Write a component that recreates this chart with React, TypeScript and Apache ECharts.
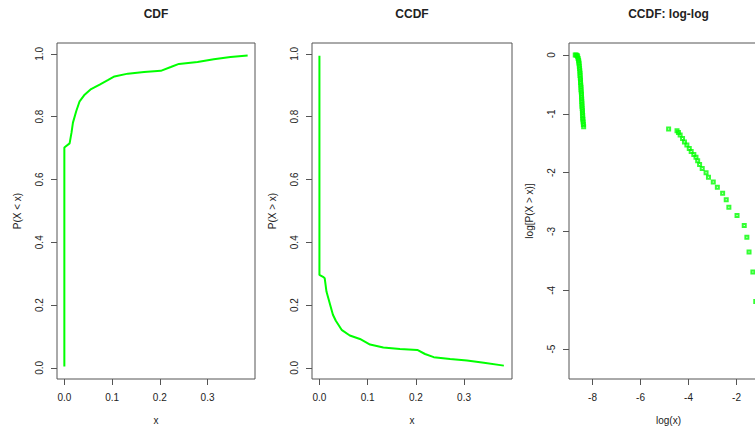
import React, { useEffect, useRef } from "react";
import * as echarts from "echarts";

// Empirical CDF, P(X < x)
const cdfX = [0, 0, 0.011, 0.015, 0.018, 0.025, 0.032, 0.0425, 0.056, 0.074, 0.091, 0.105, 0.133, 0.167, 0.202, 0.223, 0.24, 0.279, 0.313, 0.348, 0.384];
const cdfY = [0.004, 0.702, 0.715, 0.749, 0.781, 0.818, 0.849, 0.87, 0.888, 0.902, 0.916, 0.928, 0.937, 0.942, 0.946, 0.958, 0.968, 0.974, 0.983, 0.99, 0.995];

// Complementary CDF, P(X > x)
const ccdfX = [0, 0, 0.0075, 0.011, 0.0146, 0.0215, 0.028, 0.034, 0.046, 0.063, 0.084, 0.105, 0.1325, 0.167, 0.203, 0.219, 0.237, 0.271, 0.306, 0.341, 0.3825];
const ccdfY = [0.994, 0.296, 0.29, 0.285, 0.243, 0.205, 0.169, 0.15, 0.121, 0.103, 0.092, 0.074, 0.065, 0.06, 0.057, 0.044, 0.034, 0.028, 0.023, 0.016, 0.007];

// CCDF on log-log scale: log(x) vs log[P(X > x)]
const logX = [
  -8.72, -8.68, -8.64, -8.62, -8.6, -8.58, -8.57, -8.56, -8.55, -8.54, -8.53, -8.52, -8.52, -8.51, -8.5, -8.5, -8.49, -8.48,
  -8.48, -8.47, -8.46, -8.46, -8.45, -8.45, -8.44, -8.44, -8.43, -8.42, -8.42, -8.41, -8.41, -8.4, -8.39, -8.38, -8.37,
  -4.83, -4.48, -4.42, -4.35, -4.25, -4.17, -4.07, -3.97, -3.89, -3.78, -3.69, -3.62, -3.54, -3.43, -3.27, -3.17, -2.97,
  -2.8, -2.58, -2.43, -2.32, -1.98, -1.68, -1.57, -1.48, -1.32, -1.2, -1.08, -0.96,
];
const logY = [
  0, 0, -0.01, -0.03, -0.06, -0.09, -0.12, -0.15, -0.19, -0.23, -0.27, -0.31, -0.35, -0.39, -0.43, -0.47, -0.51, -0.55,
  -0.59, -0.63, -0.67, -0.71, -0.75, -0.79, -0.83, -0.87, -0.91, -0.95, -0.99, -1.03, -1.07, -1.1, -1.14, -1.18, -1.22,
  -1.26, -1.29, -1.32, -1.36, -1.42, -1.48, -1.53, -1.59, -1.64, -1.69, -1.74, -1.8, -1.86, -1.93, -2.0, -2.08, -2.16,
  -2.25, -2.35, -2.46, -2.59, -2.73, -2.9, -3.1, -3.35, -3.69, -4.19, -4.6, -5.29,
];

const linXTicks = [0, 0.1, 0.2, 0.3];
const linYTicks = [0, 0.2, 0.4, 0.6, 0.8, 1.0];
const logXTicks = [-8, -6, -4, -2];
const logYTicks = [0, -1, -2, -3, -4, -5];

const titles = ["CDF", "CCDF", "CCDF: log-log"];
const xNames = ["x", "x", "log(x)"];
const yNames = ["P(X < x)", "P(X > x)", "log[P(X > x)]"];

const pair = (xs: number[], ys: number[]) => xs.map((x, i) => [x, ys[i]]);

const FONT = "'Liberation Sans', Arial, sans-serif";
const GREEN = "#00ff00";
const INK = "#222";
const FRAME = "#555";

export default function App() {
  const ref = useRef<HTMLDivElement>(null);

  useEffect(() => {
    const chart = echarts.init(ref.current!, null, { renderer: "svg" });

    // The third panel runs past the right edge of the visible frame.
    const grids = [
      { left: 57, top: 43, width: 198, height: 338 },
      { left: 312, top: 43, width: 200, height: 338 },
      { left: 569, top: 43, width: 199, height: 338 },
    ];

    const ranges = [
      { x: [-0.0154, 0.3994], y: [-0.0356, 1.0346], xt: linXTicks, yt: linYTicks, fmt: (v: number) => v.toFixed(1) },
      { x: [-0.0154, 0.3994], y: [-0.0356, 1.0346], xt: linXTicks, yt: linYTicks, fmt: (v: number) => v.toFixed(1) },
      { x: [-8.98, -0.69], y: [-5.507, 0.203], xt: logXTicks, yt: logYTicks, fmt: (v: number) => String(Math.round(v)) },
    ];

    const axisCommon = {
      type: "value" as const,
      splitLine: { show: false },
      axisLine: { show: false, onZero: false },
      nameLocation: "middle" as const,
      nameTextStyle: { fontFamily: FONT, fontSize: 10, color: INK },
    };

    const option: any = {
      animation: false,
      backgroundColor: "#ffffff",
      title: titles.map((t, i) => ({
        text: t,
        left: grids[i].left + grids[i].width / 2,
        top: 8,
        padding: 0,
        textAlign: "center",
        textStyle: { fontFamily: FONT, fontSize: 12, fontWeight: "bold", color: INK },
      })),
      grid: grids.map((g) => ({
        ...g,
        show: true,
        borderColor: FRAME,
        borderWidth: 1,
        backgroundColor: "transparent",
        containLabel: false,
      })),
      xAxis: ranges.map((r, i) => ({
        ...axisCommon,
        gridIndex: i,
        min: r.x[0],
        max: r.x[1],
        name: xNames[i],
        nameGap: 36,
        axisTick: { show: true, length: 6, lineStyle: { color: FRAME }, customValues: r.xt },
        axisLabel: {
          customValues: r.xt,
          formatter: r.fmt,
          margin: 13,
          fontFamily: FONT,
          fontSize: 10,
          color: INK,
        },
      })),
      yAxis: ranges.map((r, i) => ({
        ...axisCommon,
        gridIndex: i,
        min: r.y[0],
        max: r.y[1],
        name: yNames[i],
        nameGap: 35,
        nameRotate: 90,
        axisTick: { show: true, length: 6, lineStyle: { color: FRAME }, customValues: r.yt },
        axisLabel: {
          customValues: r.yt,
          formatter: r.fmt,
          rotate: 90,
          margin: 13,
          fontFamily: FONT,
          fontSize: 10,
          color: INK,
        },
      })),
      series: [
        {
          type: "line",
          xAxisIndex: 0,
          yAxisIndex: 0,
          data: pair(cdfX, cdfY),
          showSymbol: false,
          lineStyle: { color: GREEN, width: 2 },
        },
        {
          type: "line",
          xAxisIndex: 1,
          yAxisIndex: 1,
          data: pair(ccdfX, ccdfY),
          showSymbol: false,
          lineStyle: { color: GREEN, width: 2 },
        },
        {
          type: "scatter",
          xAxisIndex: 2,
          yAxisIndex: 2,
          data: pair(logX, logY),
          symbol: "rect",
          symbolSize: 3,
          itemStyle: { color: "rgba(0,0,0,0)", borderColor: GREEN, borderWidth: 2 },
        },
      ],
    };

    chart.setOption(option);
    return () => chart.dispose();
  }, []);

  return (
    <div style={{ position: "absolute", left: 0, top: 0, width: 755, height: 430, overflow: "hidden" }}>
      <div ref={ref} style={{ width: 790, height: 430 }} />
    </div>
  );
}
